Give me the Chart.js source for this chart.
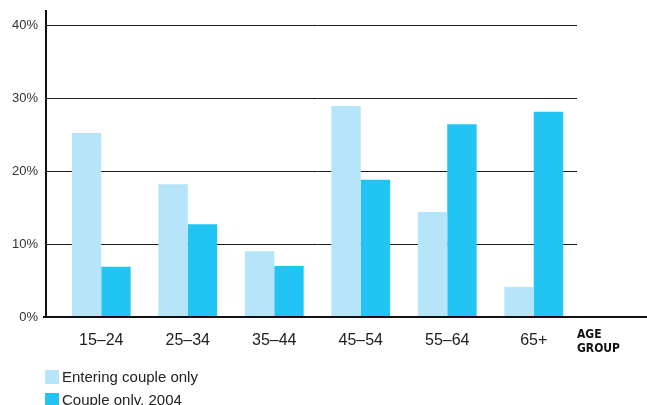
<!DOCTYPE html>
<html>
<head>
<meta charset="utf-8">
<script src="https://cdn.jsdelivr.net/npm/chart.js@4/dist/chart.umd.min.js"></script>
<style>
  html, body { margin: 0; padding: 0; background: #fff; }
  #wrap { position: relative; width: 647px; height: 405px; overflow: hidden; }
  #legend { position: absolute; left: 45px; top: 365px; font-family: "Liberation Sans", Arial, sans-serif; font-size: 15px; color: #222; }
  .item { display: flex; align-items: center; height: 23px; }
  .sw { width: 14px; height: 14px; margin-right: 3px; }
</style>
</head>
<body>
<div id="wrap">
  <canvas id="c" width="647" height="405"></canvas>
  <div id="legend"></div>
</div>
<script>
const ageGroups = ["15\u201324", "25\u201334", "35\u201344", "45\u201354", "55\u201364", "65+"];
const enteringCoupleOnly = [25.2, 18.2, 9.0, 28.9, 14.4, 4.1];
const coupleOnly2004 = [6.9, 12.7, 7.0, 18.8, 26.4, 28.1];
const yTicks = [0, 10, 20, 30, 40];
const seriesNames = ["Entering couple only", "Couple only, 2004"];
const axisTitle = ["AGE", "GROUP"];

const LIGHT = "#b6e4f9";
const DARK = "#22c4f4";

// Axis frame and the "AGE GROUP" caption
const framePlugin = {
  id: "frame",
  afterDraw(chart) {
    const ctx = chart.ctx;
    const area = chart.chartArea;
    const y = chart.scales.y;
    const x0 = area.left - 12;
    const yBase = Math.round(y.getPixelForValue(0));
    ctx.save();
    ctx.strokeStyle = "#111";
    ctx.lineWidth = 2;
    ctx.beginPath();
    ctx.moveTo(x0, 10);
    ctx.lineTo(x0, yBase + 1);
    ctx.stroke();
    ctx.beginPath();
    ctx.moveTo(x0 - 3, yBase);
    ctx.lineTo(chart.width, yBase);
    ctx.stroke();
    ctx.fillStyle = "#111";
    ctx.font = 'bold 12px "Liberation Sans Narrow", "DejaVu Sans Condensed", sans-serif';
    ctx.textBaseline = "middle";
    ctx.textAlign = "left";
    ctx.fillText(axisTitle[0], area.right, yBase + 18);
    ctx.fillText(axisTitle[1], area.right, yBase + 32);
    ctx.restore();
  }
};

const chart = new Chart(document.getElementById("c"), {
  type: "bar",
  data: {
    labels: ageGroups,
    datasets: [
      { label: seriesNames[0], data: enteringCoupleOnly, backgroundColor: LIGHT, borderWidth: 0 },
      { label: seriesNames[1], data: coupleOnly2004, backgroundColor: DARK, borderWidth: 0 }
    ]
  },
  options: {
    responsive: false,
    animation: false,
    devicePixelRatio: 1,
    layout: { padding: { top: 25, right: 70, left: 0, bottom: 0 } },
    plugins: { legend: { display: false }, tooltip: { enabled: false } },
    datasets: { bar: { categoryPercentage: 0.68, barPercentage: 1.0 } },
    scales: {
      x: {
        grid: { display: false },
        border: { display: false },
        ticks: { color: "#222", font: { family: '"Liberation Sans", Arial, sans-serif', size: 16 }, padding: 6, maxRotation: 0 },
        afterFit(scale) { scale.height = 88; }
      },
      y: {
        min: 0,
        max: 40,
        border: { display: false },
        grid: { color: "#1a1a1a", lineWidth: 1, tickLength: 12, drawTicks: true },
        afterBuildTicks(scale) { scale.ticks = yTicks.map(v => ({ value: v })); },
        ticks: {
          color: "#333",
          font: { family: '"Liberation Sans", Arial, sans-serif', size: 13 },
          padding: 8,
          callback: v => v + "%"
        },
        afterFit(scale) { scale.width = 58; }
      }
    }
  },
  plugins: [framePlugin]
});

// HTML legend built from the chart's datasets
const legend = document.getElementById("legend");
chart.data.datasets.forEach(ds => {
  const item = document.createElement("div");
  item.className = "item";
  const sw = document.createElement("span");
  sw.className = "sw";
  sw.style.background = ds.backgroundColor;
  const txt = document.createElement("span");
  txt.textContent = ds.label;
  item.appendChild(sw);
  item.appendChild(txt);
  legend.appendChild(item);
});
</script>
</body>
</html>
